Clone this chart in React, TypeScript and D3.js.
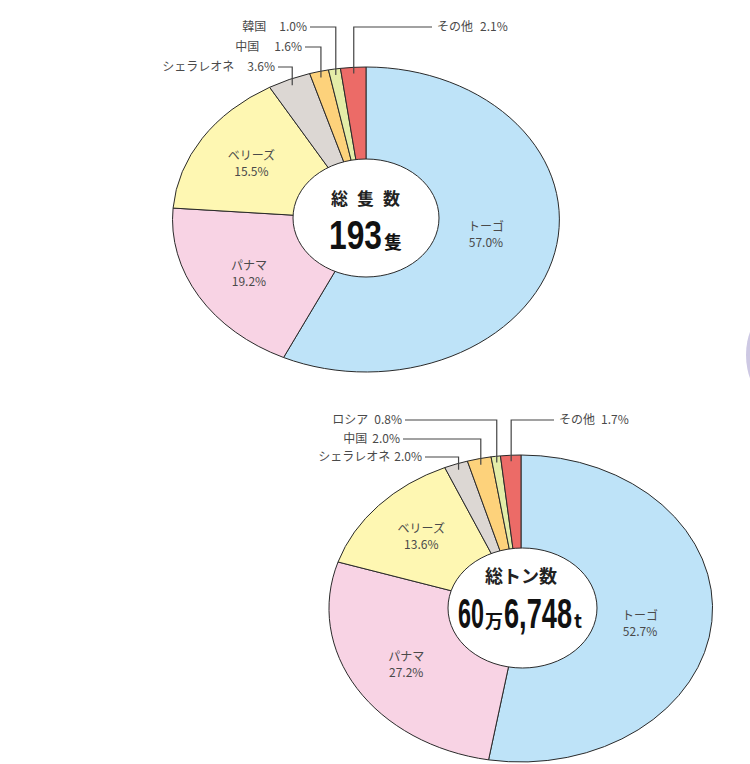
import React from "react";
import * as d3 from "d3";

// 総隻数 (ships) by flag
const shipNames = ["トーゴ", "パナマ", "ベリーズ", "シェラレオネ", "中国", "韓国", "その他"];
const shipShares = [57.0, 19.2, 15.5, 3.6, 1.6, 1.0, 2.1];

// 総トン数 (tonnage) by flag
const tonNames = ["トーゴ", "パナマ", "ベリーズ", "シェラレオネ", "中国", "ロシア", "その他"];
const tonShares = [52.7, 27.2, 13.6, 2.0, 2.0, 0.8, 1.7];

const sliceColors = ["#bee3f8", "#f8d3e4", "#fef7b2", "#dcd7d3", "#fdd27b", "#e4eda8", "#ec6b67"];

const JP = "'Noto Sans CJK JP', 'Noto Sans', sans-serif";
const NUM = "'Liberation Sans Narrow', 'Liberation Sans', sans-serif";

type Outside = { row: number; x: number; gap: number; right?: boolean };

type PieProps = {
  names: string[];
  shares: number[];
  cx: number;
  cy: number;
  rx: number;
  ry: number;
  hole: { cx: number; cy: number; rx: number; ry: number };
  outside: Record<string, Outside>;
  children?: React.ReactNode;
};

const EllipsePie = ({ names, shares, cx, cy, rx, ry, hole, outside, children }: PieProps) => {
  const data = names.map((n, i) => ({ name: n, value: shares[i], i }));
  const arcs = d3.pie<any>().sort(null).value((d) => d.value)(data);
  const arc = d3.arc<any>().innerRadius(0).outerRadius(1);
  const at = (a: number, k: number) => [cx + Math.sin(a) * rx * k, cy - Math.cos(a) * ry * k];

  return (
    <g>
      <g transform={`translate(${cx},${cy}) scale(${rx},${ry})`}>
        {arcs.map((a) => (
          <path
            key={a.data.name}
            d={arc(a) as string}
            fill={sliceColors[a.data.i]}
            stroke="#2a2a2a"
            strokeWidth={1}
            vectorEffect="non-scaling-stroke"
          />
        ))}
      </g>
      {arcs.map((a) => {
        const mid = (a.startAngle + a.endAngle) / 2;
        const o = outside[a.data.name];
        const pct = a.data.value.toFixed(1) + "%";
        if (!o) {
          // the big slice keeps its label right of the hole
          const [x, y] = a.data.value > 50 ? [cx + rx * 0.62, cy + 14] : at(mid, 0.7);
          return (
            <text key={a.data.name} x={x} y={y} textAnchor="middle" fontFamily={JP} fontSize={12} fill="#4a4a4a">
              <tspan x={x} dy={-3}>{a.data.name}</tspan>
              <tspan x={x} dy={16}>{pct}</tspan>
            </text>
          );
        }
        const [px, py] = at(mid, 0.96);
        const lineEnd = o.right ? o.x - 5 : o.x + 3;
        return (
          <g key={a.data.name}>
            <polyline
              points={`${lineEnd},${o.row} ${px},${o.row} ${px},${py}`}
              fill="none"
              stroke="#444"
              strokeWidth={1.2}
            />
            <text
              x={o.x}
              y={o.row + 4}
              textAnchor={o.right ? "start" : "end"}
              fontFamily={JP}
              fontSize={12}
              fill="#4a4a4a"
            >
              {a.data.name}
              <tspan dx={o.gap}>{pct}</tspan>
            </text>
          </g>
        );
      })}
      <ellipse cx={hole.cx} cy={hole.cy} rx={hole.rx} ry={hole.ry} fill="#fff" stroke="#2a2a2a" strokeWidth={1} />
      {children}
    </g>
  );
};

export default function App() {
  const top = { cx: 366, cy: 219.5 };
  const bot = { cx: 521, cy: 608.5 };
  return (
    <svg
      width={750}
      height={764}
      style={{ position: "absolute", left: 0, top: 0, background: "#fff" }}
    >
      <circle cx={816} cy={355} r={70} fill="#cdc8e3" />

      <EllipsePie
        names={shipNames}
        shares={shipShares}
        cx={top.cx}
        cy={top.cy}
        rx={193.5}
        ry={152.5}
        hole={{ cx: 366, cy: 218, rx: 73, ry: 59 }}
        outside={{
          韓国: { row: 27, x: 307, gap: 13 },
          中国: { row: 47, x: 302, gap: 15 },
          シェラレオネ: { row: 67, x: 275, gap: 13 },
          その他: { row: 27, x: 437, gap: 7, right: true },
        }}
      >
        <text x={top.cx + 4} y={205} textAnchor="middle" fontFamily={JP} fontWeight="bold" fontSize={17} letterSpacing={9} fill="#222">
          総隻数
        </text>
        <text x={329} y={249} fill="#111">
          <tspan fontFamily={NUM} fontWeight="bold" fontSize={40} textLength={53} lengthAdjust="spacingAndGlyphs">193</tspan>
          <tspan dx={2} fontFamily={JP} fontWeight="bold" fontSize={18}>隻</tspan>
        </text>
      </EllipsePie>

      <EllipsePie
        names={tonNames}
        shares={tonShares}
        cx={bot.cx}
        cy={bot.cy}
        rx={192}
        ry={153.5}
        hole={{ cx: 522.5, cy: 608, rx: 74.5, ry: 60 }}
        outside={{
          ロシア: { row: 420, x: 402, gap: 6 },
          中国: { row: 439, x: 400, gap: 5 },
          シェラレオネ: { row: 457, x: 422, gap: 4 },
          その他: { row: 420, x: 559, gap: 6, right: true },
        }}
      >
        <text x={bot.cx} y={583} textAnchor="middle" fontFamily={JP} fontWeight="bold" fontSize={18} fill="#222">
          総トン数
        </text>
        <text x={458} y={628} fill="#111">
          <tspan fontFamily={NUM} fontWeight="bold" fontSize={43} textLength={26} lengthAdjust="spacingAndGlyphs">60</tspan>
          <tspan dx={1} fontFamily={JP} fontWeight="bold" fontSize={18}>万</tspan>
          <tspan dx={1} fontFamily={NUM} fontWeight="bold" fontSize={43} textLength={68} lengthAdjust="spacingAndGlyphs">6,748</tspan>
          <tspan dx={2} fontFamily={JP} fontWeight="bold" fontSize={19}>t</tspan>
        </text>
      </EllipsePie>
    </svg>
  );
}
